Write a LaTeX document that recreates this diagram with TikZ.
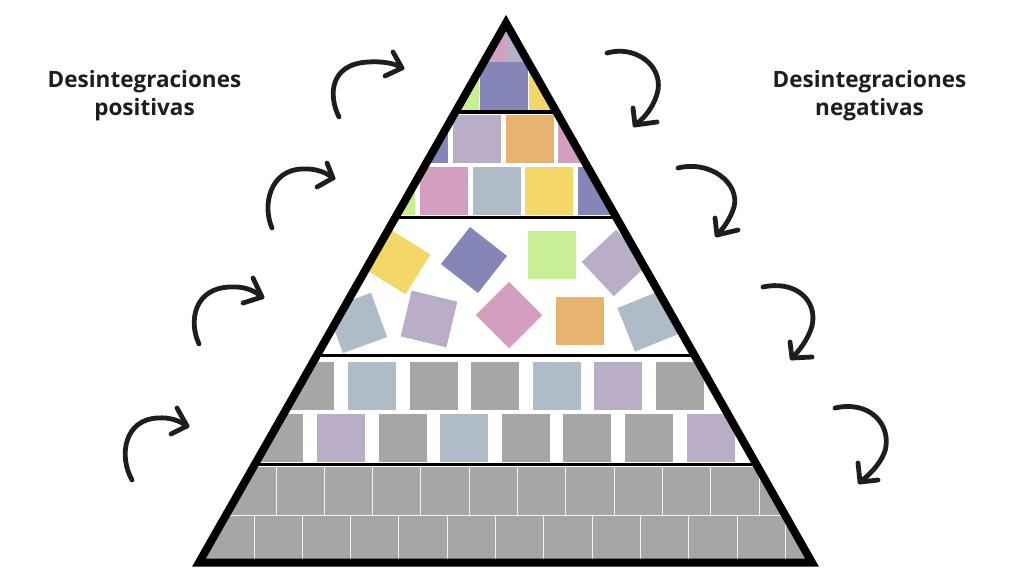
\documentclass[tikz,border=0pt]{standalone}
\usepackage{fontspec}
\setmainfont{Open Sans}
\definecolor{cpink}{HTML}{D49EBE}
\definecolor{clav}{HTML}{BAADC6}
\definecolor{cpur}{HTML}{8585B8}
\definecolor{cyel}{HTML}{F3D869}
\definecolor{cgrn}{HTML}{C8EE96}
\definecolor{corg}{HTML}{E6B46E}
\definecolor{cgb}{HTML}{B0BBC8}
\definecolor{cgry}{HTML}{A6A6A6}
\definecolor{ink}{HTML}{1E1E1E}
\newcommand\mysq[3]{\fill[#3] (#1,#2) rectangle ++(48,48);}
\newcommand\myrot[4]{\fill[#4, shift={(#1,#2)}, rotate=#3] (-23.5,-23.5) rectangle (23.5,23.5);}
\begin{document}
\begin{tikzpicture}[x=1pt,y=-1pt,
  arr/.style={draw=ink, line width=4.8, line cap=round, line join=round},
  sep/.style={draw=black, line width=3.5},
  brick/.style={draw=white!85!cgry, line width=1},
  lbl/.style={font=\fontsize{22.5}{28}\selectfont\bfseries, text=ink, anchor=base, inner sep=0}]
\useasboundingbox[fill=white] (0,0) rectangle (1024,576);
\coordinate (T) at (506,23);
\coordinate (L) at (199,562.5);
\coordinate (R) at (812,562.5);
\begin{scope}
\clip (T) -- (L) -- (R) -- cycle;
% band 1
\mysq{457}{15}{cpink}
\mysq{505}{15}{clav}
\mysq{431}{62}{cgrn}
\mysq{480}{62}{cpur}
\mysq{529}{62}{cyel}
\draw[sep] (300,112) -- (720,112);
% band 2
\mysq{400}{115}{cpur}
\mysq{453}{115}{clav}
\mysq{506}{115}{corg}
\mysq{558}{115}{cpink}
\mysq{367}{167}{cgrn}
\mysq{420}{167}{cpink}
\mysq{473}{167}{cgb}
\mysq{525}{167}{cyel}
\mysq{578}{167}{cpur}
\draw[sep] (300,217.5) -- (720,217.5);
% band 3
\myrot{398}{262}{-32}{cyel}
\myrot{474}{260}{-38}{cpur}
\mysq{528}{231}{cgrn}
\myrot{615}{263}{-47}{clav}
\myrot{357}{323}{20}{cgb}
\myrot{429}{319}{-13.5}{clav}
\myrot{509}{315}{45}{cpink}
\mysq{556}{297}{corg}
\myrot{648}{321}{22}{cgb}
\draw[sep] (200,355.5) -- (820,355.5);
% band 4
\mysq{286.4}{362}{cgry}
\mysq{348}{362}{cgb}
\mysq{409.6}{362}{cgry}
\mysq{471.2}{362}{cgry}
\mysq{532.8}{362}{cgb}
\mysq{594.4}{362}{clav}
\mysq{656}{362}{cgry}
\mysq{255.4}{414}{cgry}
\mysq{317}{414}{clav}
\mysq{378.6}{414}{cgry}
\mysq{440.2}{414}{cgb}
\mysq{501.8}{414}{cgry}
\mysq{563.4}{414}{cgry}
\mysq{625}{414}{cgry}
\mysq{686.6}{414}{clav}
\draw[sep] (150,464.5) -- (870,464.5);
% band 5
\fill[cgry] (150,466.5) rectangle (870,575);
\draw[brick] (150,515) -- (870,515);
\foreach \k in {-1,...,11} {\draw[brick] (276+48.3*\k,466.5) -- (276+48.3*\k,515);}
\foreach \k in {-1,...,12} {\draw[brick] (254+48.3*\k,515) -- (254+48.3*\k,563);}
\end{scope}
\draw[line width=8, line join=miter, miter limit=10] (T) -- (L) -- (R) -- cycle;
% labels
\node[lbl] (p1) at (144.5,87) {Desintegraciones};
\node[lbl] (p2) at (144.5,115) {positivas};
\node[lbl] (n1) at (869.5,87) {Desintegraciones};
\node[lbl] (n2) at (869.5,115) {negativas};
% left arrows
\draw[arr] (339,117) .. controls (328,95) and (330,64) .. (368,62) .. controls (385,61) and (396,64) .. (402,68);
\draw[arr] (393,52) -- (402,68) -- (385,76);
\draw[arr] (272,228) .. controls (262,205) and (270,170) .. (302,169) .. controls (316,168) and (327,173) .. (333,178);
\draw[arr] (327,163) -- (333,178) -- (317,187);
\draw[arr] (199,344) .. controls (188,320) and (195,288) .. (230,287) .. controls (245,286) and (255,291) .. (262,297);
\draw[arr] (253,278) -- (262,297) -- (243,303);
\draw[arr] (132,480) .. controls (118,455) and (125,419) .. (158,418) .. controls (170,417) and (180,421) .. (187,426);
\draw[arr] (177,408) -- (187,426) -- (171,434);
% right arrows
\draw[arr] (607,53) .. controls (635,45) and (662,65) .. (658,90) .. controls (655,105) and (645,118) .. (635,125);
\draw[arr] (633,108) -- (635,125) -- (657,122);
\draw[arr] (678,168) .. controls (710,160) and (740,183) .. (734,207) .. controls (730,220) and (722,230) .. (717,235);
\draw[arr] (715,218) -- (717,235) -- (738,230);
\draw[arr] (763,287) .. controls (795,280) and (818,300) .. (812,326) .. controls (808,340) and (798,352) .. (792,358);
\draw[arr] (790,342) -- (792,358) -- (812,357);
\draw[arr] (835,408) .. controls (870,400) and (892,425) .. (885,451) .. controls (880,465) and (868,476) .. (860,482);
\draw[arr] (858,463) -- (860,482) -- (878,480);
\end{tikzpicture}
\end{document}
